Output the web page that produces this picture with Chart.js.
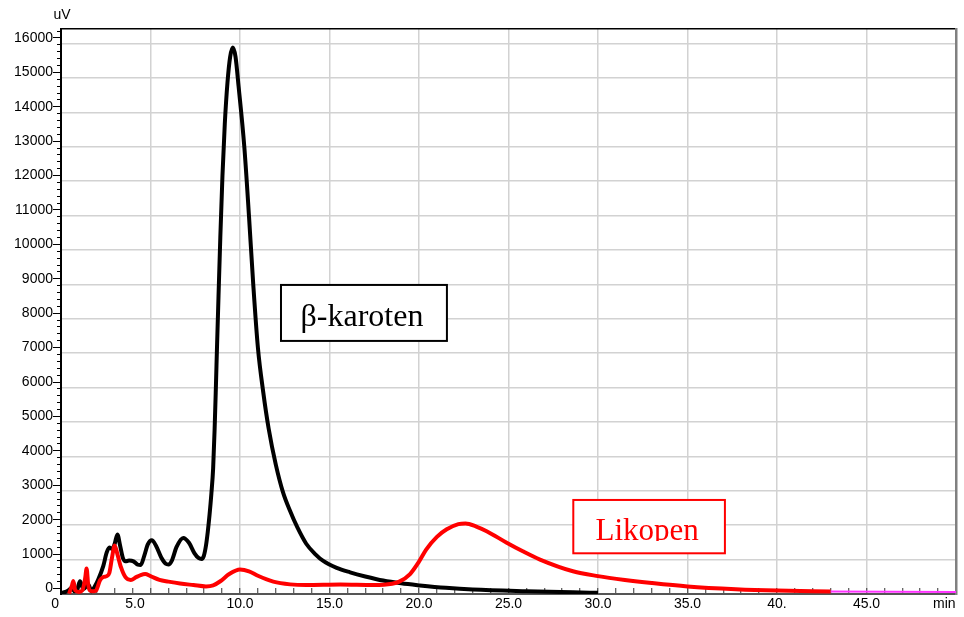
<!DOCTYPE html>
<html><head><meta charset="utf-8">
<script src="https://cdn.jsdelivr.net/npm/chart.js@4/dist/chart.umd.min.js"></script>
<style>html,body{margin:0;padding:0;background:#fff;}canvas{display:block;}</style>
</head><body>
<canvas id="c" width="964" height="617"></canvas>
<script>
// ---- data ----
const karotenTime = [0.0,0.25,0.45,0.6,0.75,0.9,1.06,1.25,1.53,1.7,1.9,2.08,2.36,2.55,2.7,2.85,3.0,3.15,3.3,3.45,3.6,3.8,4.05,4.3,4.45,4.65,4.85,5.07,5.3,5.6,5.85,6.0,6.2,6.45,6.83,7.15,7.45,7.7,7.86,7.98,8.1,8.2,8.3,8.4,8.5,8.58,8.65,8.72,8.8,8.9,9.02,9.15,9.3,9.45,9.6,9.75,9.92,10.24,10.5,10.74,11.0,11.3,11.6,12.0,12.4,12.8,13.2,13.7,14.2,14.65,15.4,16.15,17.0,18.0,19.0,20.05,21.5,23.0,26.0,28.6,30.0];
const karotenUV   = [-130,-100,-40,20,-80,-40,210,-20,115,-80,70,260,650,1040,1190,1150,1300,1570,1250,900,790,810,790,690,680,950,1280,1400,1250,900,720,700,820,1200,1470,1330,1030,880,860,950,1250,1650,2150,2750,3500,4600,5800,7100,8500,10200,12000,13500,14700,15450,15720,15450,14600,12840,10840,8840,7000,5700,4650,3600,2800,2250,1780,1300,1000,800,600,470,350,230,150,90,20,-30,-80,-110,-125];

const likopenTime = [0.45,0.62,0.69,0.8,1.0,1.2,1.35,1.43,1.52,1.62,1.8,1.95,2.18,2.35,2.55,2.7,2.85,3.0,3.15,3.35,3.6,3.9,4.2,4.45,4.7,5.0,5.5,6.0,6.65,7.4,8.1,8.5,8.9,9.4,10.0,10.5,11.0,11.86,12.8,13.7,15.6,17.45,18.5,18.9,19.5,20.0,20.4,21.0,21.55,22.2,22.6,23.2,23.78,24.9,25.8,26.76,28.6,30.0,31.5,33.0,35.0,37.7,40.0,43.0];
const likopenUV   = [-150,100,220,-60,-100,-50,300,580,100,-60,-80,-60,240,330,360,450,900,1250,1000,620,330,250,330,390,420,360,250,200,145,100,60,90,210,420,550,500,370,200,120,100,115,100,140,200,420,780,1130,1500,1720,1870,1890,1800,1665,1330,1080,840,500,360,250,160,60,-20,-60,-85];

const tailTime = [43.0,46.5,50.0];
const tailUV   = [-85,-95,-100];

const xTickValues = [0,5,10,15,20,25,30,35,40,45,50];
const xTickLabels = ['0','5.0','10.0','15.0','20.0','25.0','30.0','35.0','40.','45.0','min'];
const yTickValues = [0,1000,2000,3000,4000,5000,6000,7000,8000,9000,10000,11000,12000,13000,14000,15000,16000];
const yTickLabels = ['0','1000','2000','3000','4000','5000','6000','7000','8000','9000','10000','11000','12000','13000','14000','15000','16000'];
const yUnit = 'uV';
const peakNames = ['β-karoten','Likopen'];

// ---- layout / style (not data) ----
const Y_MIN = -160, Y_MAX = 16260, X_MIN = 0, X_MAX = 50;
const X_LABEL_PAD = {0:'   ', 5:'        ', 50:'      '};
const BOXES = [
  {name:0, t0:12.29, t1:21.56, v0:8822, v1:7195, color:'#000', size:32, base:0.727, dx:-2, clip:1.0},
  {name:1, t0:28.62, t1:37.09, v0:2573, v1:1023, color:'#ff0000', size:31, base:0.75, dx:-2, clip:0.79}
];
const FONT = '"Liberation Sans", Arial, sans-serif';

const pts = (ts, vs) => ts.map((t, i) => ({x: t, y: vs[i]}));
const range = (a, b, s) => { const r = []; for (let v = a; v <= b + 1e-9; v += s) r.push(+v.toFixed(3)); return r; };

const deco = {
  id: 'deco',
  afterDatasetsDraw(chart) {
    const {ctx, scales: {x, y}} = chart;
    ctx.save();
    for (const b of BOXES) {
      const x0 = x.getPixelForValue(b.t0), x1 = x.getPixelForValue(b.t1);
      const y0 = y.getPixelForValue(b.v0), y1 = y.getPixelForValue(b.v1);
      ctx.fillStyle = '#fff';
      ctx.fillRect(x0, y0, x1 - x0, y1 - y0);
      ctx.lineWidth = 2; ctx.strokeStyle = b.color;
      ctx.strokeRect(x0, y0, x1 - x0, y1 - y0);
      ctx.save();
      ctx.beginPath(); ctx.rect(x0 + 1, y0 + 1, x1 - x0 - 2, (y1 - y0) * b.clip - 2); ctx.clip();
      ctx.font = b.size + 'px "Liberation Serif", "Times New Roman", serif';
      ctx.fillStyle = b.color; ctx.textAlign = 'center'; ctx.textBaseline = 'alphabetic';
      ctx.fillText(peakNames[b.name], (x0 + x1) / 2 + b.dx, y0 + (y1 - y0) * b.base);
      ctx.restore();
    }
    ctx.font = '14px ' + FONT; ctx.fillStyle = '#000';
    ctx.textAlign = 'center'; ctx.textBaseline = 'middle';
    ctx.fillText(yUnit, chart.chartArea.left + 1, 15);
    ctx.restore();
  }
};

const zeroW = s => { s.width = 0; s.paddingTop = 0; s.paddingBottom = 0; };
const zeroH = s => { s.height = 0; s.paddingLeft = 0; s.paddingRight = 0; };

new Chart(document.getElementById('c'), {
  type: 'line',
  data: {
    datasets: [
      {data: pts(tailTime, tailUV), borderColor: '#ff33ff', borderWidth: 2, pointRadius: 0, order: 0},
      {data: pts(likopenTime, likopenUV), borderColor: '#ff0000', borderWidth: 4, pointRadius: 0, cubicInterpolationMode: 'monotone', order: 1},
      {data: pts(karotenTime, karotenUV), borderColor: '#000000', borderWidth: 4, pointRadius: 0, cubicInterpolationMode: 'monotone', order: 2}
    ]
  },
  options: {
    responsive: false, animation: false,
    layout: {padding: {top: 29, right: 8, left: 0, bottom: 0}},
    plugins: {legend: {display: false}, tooltip: {enabled: false}},
    scales: {
      x: {
        type: 'linear', position: 'bottom', min: X_MIN, max: X_MAX, bounds: 'data',
        afterBuildTicks: s => { s.ticks = range(0, 50, 1).map(v => ({value: v})); },
        afterFit: s => { s.height = 23; s.paddingLeft = 0; s.paddingRight = 0; },
        grid: {
          color: c => (c.tick && c.tick.value % 5 === 0 && c.tick.value > 0 && c.tick.value < 50) ? '#d2d2d2' : 'rgba(0,0,0,0)',
          lineWidth: 1.5, tickLength: -6, tickColor: '#333', tickWidth: 1
        },
        border: {color: '#555', width: 2},
        ticks: {
          autoSkip: false, maxRotation: 0, minRotation: 0, padding: 8, color: '#000',
          font: {family: FONT, size: 14},
          callback: v => { const i = xTickValues.indexOf(v); return i < 0 ? '' : xTickLabels[i] + (X_LABEL_PAD[v] || ''); }
        }
      },
      xTop: {
        type: 'linear', position: 'top', min: X_MIN, max: X_MAX,
        afterFit: zeroH,
        grid: {display: false, drawTicks: false}, ticks: {display: false},
        border: {display: true, color: '#000', width: 1.5}
      },
      y: {
        type: 'linear', position: 'left', min: Y_MIN, max: Y_MAX, bounds: 'data', weight: 3,
        afterBuildTicks: s => { s.ticks = yTickValues.map(v => ({value: v})); },
        afterFit: s => { s.width = 61; s.paddingTop = 0; s.paddingBottom = 0; },
        grid: {drawOnChartArea: false, tickLength: 8, tickColor: '#000', tickWidth: 1},
        border: {color: '#000', width: 2},
        ticks: {padding: 0, color: '#000', font: {family: FONT, size: 14},
          callback: (v, i) => yTickLabels[yTickValues.indexOf(v)]}
      },
      yMinor: {
        type: 'linear', position: 'left', min: Y_MIN, max: Y_MAX, bounds: 'data', weight: 2,
        afterBuildTicks: s => { s.ticks = range(0, 16200, 200).map(v => ({value: v})); },
        afterFit: zeroW,
        grid: {drawOnChartArea: false, tickLength: 4, tickColor: '#000', tickWidth: 1},
        border: {display: false}, ticks: {display: false}
      },
      yGrid: {
        type: 'linear', position: 'left', min: Y_MIN, max: Y_MAX, bounds: 'data', weight: 1,
        afterBuildTicks: s => { s.ticks = range(840, 15840, 1000).map(v => ({value: v})); },
        afterFit: zeroW,
        grid: {drawTicks: false, color: '#d2d2d2', lineWidth: 1.5},
        border: {display: false}, ticks: {display: false}
      },
      yRight: {
        type: 'linear', position: 'right', min: Y_MIN, max: Y_MAX,
        afterFit: zeroW,
        grid: {display: false, drawTicks: false}, ticks: {display: false},
        border: {display: true, color: '#808080', width: 2.5}
      }
    }
  },
  plugins: [deco]
});
</script>
</body></html>
